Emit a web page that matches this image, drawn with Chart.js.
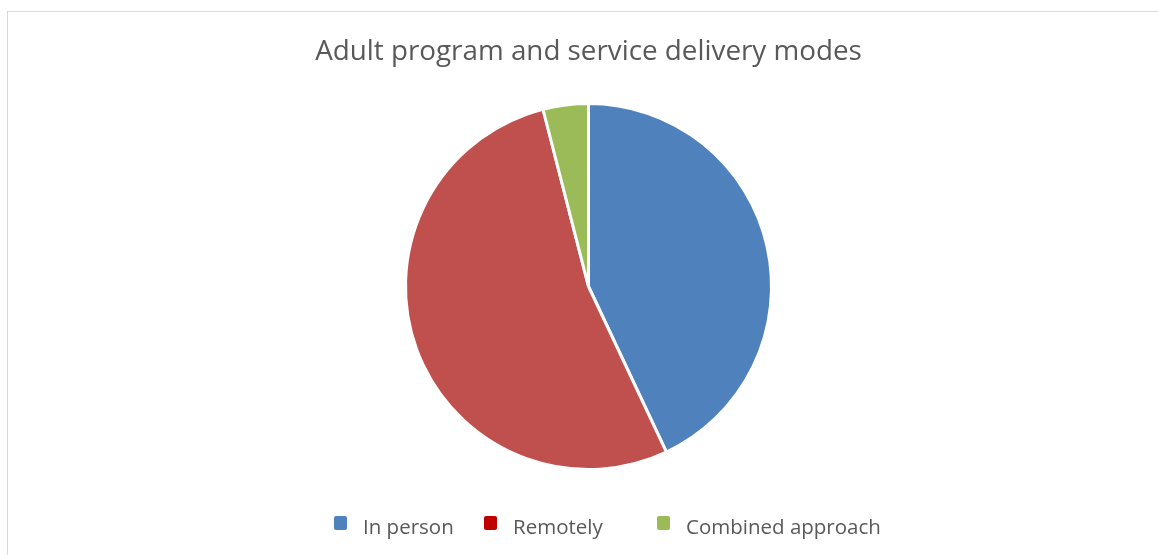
<!DOCTYPE html>
<html>
<head>
<meta charset="utf-8">
<script src="https://cdn.jsdelivr.net/npm/chart.js@4.4.1/dist/chart.umd.min.js"></script>
<style>
  html, body { margin: 0; padding: 0; background: #fff; }
  #frame {
    position: absolute; left: 7px; top: 11px; width: 1151px; height: 544px;
    border-top: 1.5px solid #D9D9D9; border-left: 1.5px solid #D9D9D9;
    box-sizing: border-box;
  }
  #wrap { position: absolute; left: 0; top: 0; width: 1158px; height: 555px; }
</style>
</head>
<body>
<div id="frame"></div>
<div id="wrap"><canvas id="c" width="1158" height="555"></canvas></div>
<script>
const chartTitle = 'Adult program and service delivery modes';
const categories = ['In person', 'Remotely', 'Combined approach'];
const shares = [43, 53, 4];
const sliceColors = ['#4F81BD', '#C0504D', '#9BBB59'];
const legendColors = ['#4F81BD', '#C00000', '#9BBB59'];

const FONT = '"Open Sans", "Liberation Sans", sans-serif';

// Title and legend row drawn straight onto the canvas
const decorations = {
  id: 'decorations',
  afterDraw(chart) {
    const ctx = chart.ctx;
    ctx.save();
    ctx.fillStyle = '#595959';
    ctx.font = '27.8px ' + FONT;
    ctx.textAlign = 'center';
    ctx.textBaseline = 'middle';
    ctx.fillText(chartTitle, 588.5, 52);

    const markerX = [334, 484, 657];
    ctx.font = '20.5px ' + FONT;
    ctx.textAlign = 'left';
    categories.forEach((name, i) => {
      ctx.fillStyle = legendColors[i];
      ctx.beginPath();
      ctx.roundRect(markerX[i], 516, 13, 14, 2);
      ctx.fill();
      ctx.fillStyle = '#595959';
      ctx.fillText(name, markerX[i] + 29, 528);
    });
    ctx.restore();
  }
};

new Chart(document.getElementById('c'), {
  type: 'pie',
  data: {
    labels: categories,
    datasets: [{
      data: shares,
      backgroundColor: sliceColors,
      borderColor: '#FFFFFF',
      borderWidth: 3
    }]
  },
  options: {
    responsive: false,
    animation: false,
    layout: { padding: { top: 102, bottom: 84, left: 19, right: 0 } },
    plugins: {
      legend: { display: false },
      title: { display: false },
      tooltip: { enabled: false }
    }
  },
  plugins: [decorations]
});
</script>
</body>
</html>
